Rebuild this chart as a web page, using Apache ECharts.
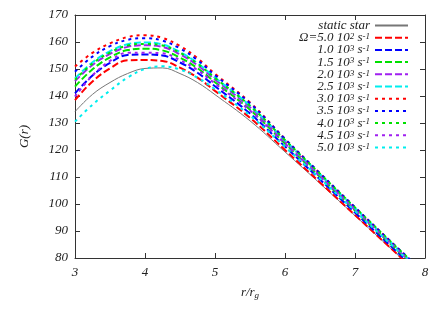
<!DOCTYPE html>
<html><head><meta charset="utf-8">
<script src="https://cdn.jsdelivr.net/npm/echarts@6/dist/echarts.min.js"></script>
<style>html,body{margin:0;padding:0;background:#fff}#c{width:444px;height:311px}</style>
</head><body><div id="c"></div>
<script>
// r / r_g sample positions (shared by all curves)
var rValues = [3, 3.25, 3.5, 3.75, 4, 4.25, 4.5, 4.75, 5, 5.5, 6, 6.5, 7, 7.5, 7.8];
var staticStar = [134.2,140.6,145.0,148.3,150.2,150.4,148.3,145.0,140.5,130.8,119.3,107.6,95.7,83.8,76.6];
var omega05e2 = [138.5,145.4,150.2,153.2,153.3,153.0,150.5,146.8,141.9,131.9,120.0,108.0,95.9,83.9,76.7];
var omega10e3 = [141.0,147.6,152.3,155.2,155.4,155.0,152.4,148.6,143.6,133.5,121.3,109.1,96.8,84.7,77.4];
var omega15e3 = [143.5,149.9,154.3,157.0,157.5,156.9,154.2,150.3,145.1,134.9,122.4,110.0,97.6,85.4,78.1];
var omega20e3 = [145.5,151.5,155.6,158.2,158.8,158.2,155.4,151.4,146.1,135.8,123.1,110.6,98.1,85.8,78.5];
var omega25e3 = [146.5,152.5,156.6,159.2,159.8,159.1,156.3,152.2,146.8,136.4,123.6,111.0,98.5,86.1,78.8];
var omega30e3 = [150.9,156.0,159.5,161.8,162.5,161.5,158.5,154.0,148.2,137.6,124.1,111.3,98.7,86.3,79.0];
var omega35e3 = [149.0,154.6,158.5,160.8,161.4,160.5,157.6,153.3,147.7,137.3,124.1,111.4,98.8,86.4,79.1];
var omega40e3 = [146.0,152.0,156.1,158.7,159.3,158.7,156.0,152.0,146.7,136.4,123.7,111.2,98.7,86.3,79.0];
var omega45e3 = [139.8,147.6,153.0,156.0,156.0,155.8,153.3,149.6,144.6,134.6,122.4,110.2,97.9,85.7,78.4];
var omega50e3 = [130.5,136.8,142.0,146.8,150.0,151.0,149.8,146.8,142.5,132.8,121.2,109.4,97.4,85.4,78.2];

var omegaMantissa = ['5.0','1.0','1.5','2.0','2.5','3.0','3.5','4.0','4.5','5.0'];
var omegaExponent = ['2','3','3','3','3','3','3','3','3','3'];
var omegaData = [omega05e2,omega10e3,omega15e3,omega20e3,omega25e3,omega30e3,omega35e3,omega40e3,omega45e3,omega50e3];
var omegaColors = ['#ff0000','#0000ff','#00e000','#a020f0','#00eeee','#ff0000','#0000ff','#00e000','#a020f0','#00eeee'];
var xTicks = [3,4,5,6,7,8];
var yTicks = [80,90,100,110,120,130,140,150,160,170];

function pairs(arr){ return arr.map(function(v,i){ return [rValues[i], v]; }); }

var fam = 'Liberation Serif';
var series = [{
  name: 'static star', type: 'line', data: pairs(staticStar), showSymbol: false, symbol: 'none',
  smooth: 0.4, lineStyle: {color: '#777', width: 1}, itemStyle: {color: '#999'}, z: 1
}];
var names = ['static star'];
var labelMap = {'static star': '{t|static star}'};
omegaData.forEach(function(d, i){
  var nm = (i === 0 ? 'Ω=' : '') + omegaMantissa[i] + ' 10^' + omegaExponent[i];
  names.push(nm);
  labelMap[nm] = '{t|' + (i === 0 ? 'Ω=' : '') + omegaMantissa[i] + ' 10}{s|' + omegaExponent[i] + '}{t| s}{s|-1}';
  series.push({
    name: nm, type: 'line', data: pairs(d), showSymbol: false, symbol: 'none', smooth: 0.4,
    lineStyle: {color: omegaColors[i], width: 2, type: i < 5 ? [7, 3] : [3, 4]},
    itemStyle: {color: omegaColors[i]}, z: 2
  });
});

var axisCol = '#333';
var chart = echarts.init(document.getElementById('c'), null, {renderer: 'canvas'});
chart.setOption({
  animation: false,
  grid: {left: 75, right: 19, top: 15, bottom: 53},
  legend: {
    data: names, orient: 'vertical', align: 'right', right: 30, top: 14,
    itemWidth: 33, itemHeight: 11, itemGap: -0.8,
    itemStyle: {opacity: 0},
    formatter: function(n){ return labelMap[n]; },
    textStyle: {
      lineHeight: 11,
      rich: {
        t: {fontFamily: fam, fontStyle: 'italic', fontSize: 13, color: '#222', lineHeight: 11},
        s: {fontFamily: fam, fontStyle: 'italic', fontSize: 9, color: '#222', verticalAlign: 'top', lineHeight: 7}
      }
    }
  },
  xAxis: [{
    type: 'value', min: 3, max: 8, interval: 1,
    name: '{a|r/r}{b|g}', nameLocation: 'middle', nameGap: 27,
    nameTextStyle: {rich: {
      a: {fontFamily: fam, fontStyle: 'italic', fontSize: 13, color: '#222', lineHeight: 14},
      b: {fontFamily: fam, fontStyle: 'italic', fontSize: 9, color: '#222', verticalAlign: 'bottom', padding: [6,0,0,0]}
    }},
    axisLine: {show: true, lineStyle: {color: axisCol, width: 1}},
    axisTick: {show: true, inside: true, length: 5, lineStyle: {color: axisCol}},
    axisLabel: {fontFamily: fam, fontStyle: 'italic', fontSize: 13, color: '#222', margin: 8,
      formatter: function(v){ return xTicks.indexOf(v) >= 0 ? String(v) : ''; }},
    splitLine: {show: false}
  }, {
    type: 'value', min: 3, max: 8, interval: 1, position: 'top',
    axisLine: {show: true, lineStyle: {color: axisCol, width: 1}},
    axisTick: {show: true, inside: true, length: 5, lineStyle: {color: axisCol}},
    axisLabel: {show: false}, splitLine: {show: false}
  }],
  yAxis: [{
    type: 'value', min: 80, max: 170, interval: 10,
    name: 'G(r)', nameLocation: 'middle', nameGap: 44, nameRotate: 90,
    nameTextStyle: {fontFamily: fam, fontStyle: 'italic', fontSize: 13, color: '#222'},
    axisLine: {show: true, lineStyle: {color: axisCol, width: 1}},
    axisTick: {show: true, inside: true, length: 5, lineStyle: {color: axisCol}},
    axisLabel: {fontFamily: fam, fontStyle: 'italic', fontSize: 13, color: '#222', margin: 7,
      formatter: function(v){ return yTicks.indexOf(v) >= 0 ? String(v) : ''; }},
    splitLine: {show: false}
  }, {
    type: 'value', min: 80, max: 170, interval: 10, position: 'right',
    axisLine: {show: true, lineStyle: {color: axisCol, width: 1}},
    axisTick: {show: true, inside: true, length: 5, lineStyle: {color: axisCol}},
    axisLabel: {show: false}, splitLine: {show: false}
  }],
  series: series
});
</script></body></html>
